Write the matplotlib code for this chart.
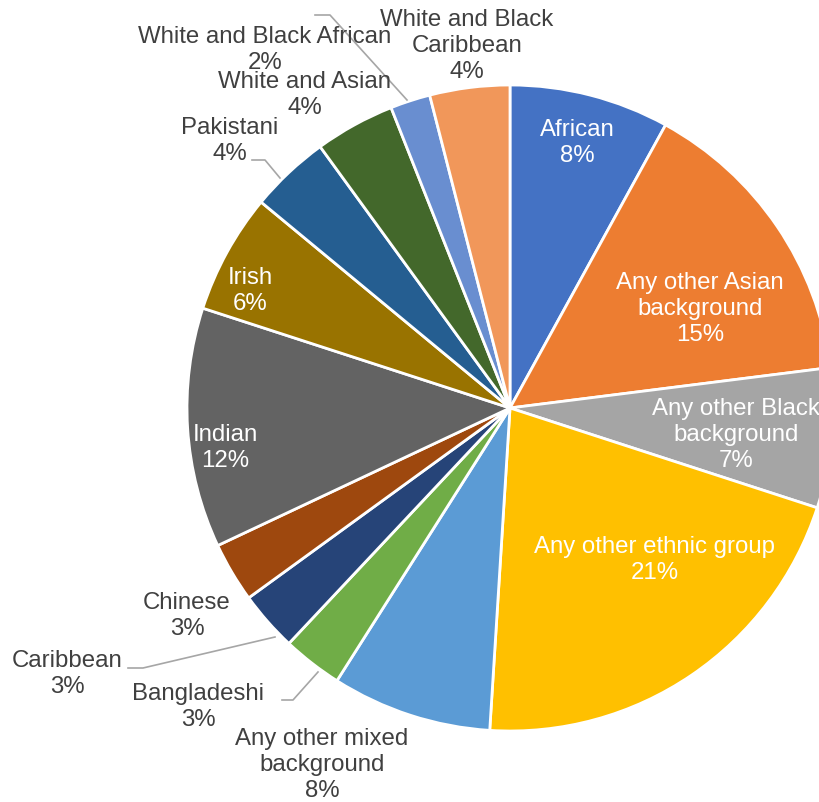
import matplotlib.pyplot as plt

plt.rcParams['font.family'] = ['Liberation Sans', 'DejaVu Sans']

groups = ['African', 'Any other Asian background', 'Any other Black background',
          'Any other ethnic group', 'Any other mixed background', 'Bangladeshi',
          'Caribbean', 'Chinese', 'Indian', 'Irish', 'Pakistani', 'White and Asian',
          'White and Black African', 'White and Black Caribbean']
share = [8, 15, 7, 21, 8, 3, 3, 3, 12, 6, 4, 4, 2, 4]

colors = ['#4472C4', '#ED7D31', '#A5A5A5', '#FFC000', '#5B9BD5', '#70AD47',
          '#264478', '#9E480E', '#636363', '#997300', '#255E91', '#43682B',
          '#698ED0', '#F1975A']

# label text broken over lines, as it sits on the chart
label_text = ['African', 'Any other Asian\nbackground', 'Any other Black\nbackground',
              'Any other ethnic group', 'Any other mixed\nbackground', 'Bangladeshi',
              'Caribbean', 'Chinese', 'Indian', 'Irish', 'Pakistani', 'White and Asian',
              'White and Black African', 'White and Black\nCaribbean']

W, H = 819, 802
CX, CY, R = 510, 408, 323   # pie centre and radius in pixels


def px(x, y):
    return (x - CX) / R, (CY - y) / R


# label centres (pixels) and whether the label sits inside the slice
label_pos = [(577, 143), (700, 309), (736, 435), (655, 560), (322, 765), (198, 707),
             (67, 674), (187, 616), (225, 448), (250, 291), (230, 141), (305, 95),
             (265, 50), (467, 46)]
inside = [True, True, True, True, False, False, False, False, True, True,
          False, False, False, False]

# leader lines (pixels)
leaders = [
    [(128, 668), (143, 668), (275, 637)],
    [(282, 700), (293, 700), (318, 672)],
    [(252, 160), (265, 160), (280, 178)],
    [(315, 15), (330, 15), (407, 100)],
]

fig = plt.figure(figsize=(W / 100, H / 100), dpi=100)
ax = fig.add_axes([0, 0, 1, 1])
ax.pie(share, colors=colors, startangle=90, counterclock=False, radius=1,
       wedgeprops=dict(edgecolor='white', linewidth=2))

for txt, v, (x, y), ins in zip(label_text, share, label_pos, inside):
    lx, ly = px(x, y)
    ax.text(lx, ly, f'{txt}\n{v}%', ha='center', va='center', fontsize=17.3,
            color='white' if ins else '#404040', linespacing=1.22)

for pts in leaders:
    xs, ys = zip(*[px(x, y) for x, y in pts])
    ax.plot(xs, ys, color='#A6A6A6', lw=1.2)

ax.set_aspect('auto')
ax.set_xlim(px(0, 0)[0], px(W, 0)[0])
ax.set_ylim(px(0, H)[1], px(0, 0)[1])
ax.axis('off')

fig.savefig('out.png', dpi=100, facecolor='white')
